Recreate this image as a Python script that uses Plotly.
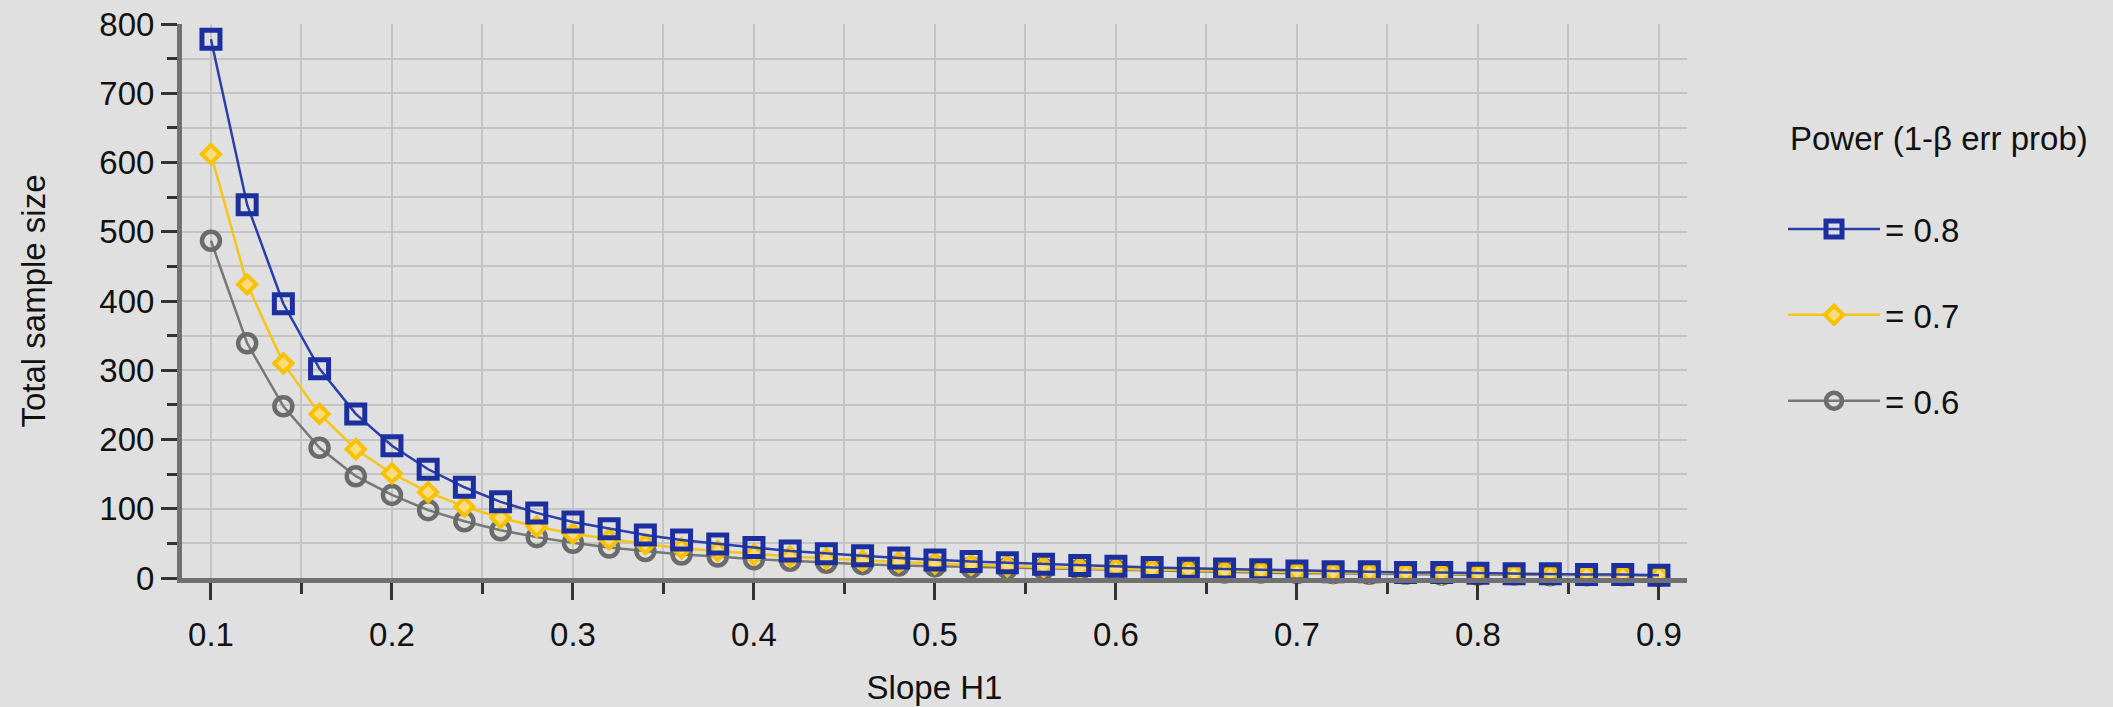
import plotly.graph_objects as go

# ---- data ----
slope = [0.10, 0.12, 0.14, 0.16, 0.18, 0.20, 0.22, 0.24, 0.26, 0.28,
         0.30, 0.32, 0.34, 0.36, 0.38, 0.40, 0.42, 0.44, 0.46, 0.48,
         0.50, 0.52, 0.54, 0.56, 0.58, 0.60, 0.62, 0.64, 0.66, 0.68,
         0.70, 0.72, 0.74, 0.76, 0.78, 0.80, 0.82, 0.84, 0.86, 0.88, 0.90]

n_power_08 = [778, 539, 396, 302, 237, 191, 157, 131, 110, 94,
              81, 71, 62, 55, 49, 44, 39, 35, 32, 29,
              26, 24, 22, 20, 18, 17, 15, 14, 13, 12,
              10, 9, 9, 8, 8, 7, 6, 6, 5, 5, 4]

n_power_07 = [612, 424, 310, 237, 186, 151, 124, 103, 87, 74,
              64, 56, 49, 43, 39, 34, 31, 28, 25, 23,
              21, 19, 17, 16, 14, 13, 12, 11, 10, 10,
              9, 8, 8, 7, 6, 6, 6, 5, 5, 4, 4]

n_power_06 = [487, 339, 248, 188, 147, 120, 98, 82, 69, 59,
              51, 44, 39, 34, 31, 27, 25, 22, 20, 18,
              17, 15, 14, 13, 12, 11, 10, 9, 8, 8,
              7, 7, 6, 6, 5, 5, 5, 4, 4, 4, 3]

series_names = ["= 0.8", "= 0.7", "= 0.6"]
legend_title = "Power (1-β err prob)"
x_title = "Slope H1"
y_title = "Total sample size"
x_ticks = [0.1, 0.2, 0.3, 0.4, 0.5, 0.6, 0.7, 0.8, 0.9]
y_ticks = [0, 100, 200, 300, 400, 500, 600, 700, 800]

FONT = "Liberation Sans, Arial, Helvetica, sans-serif"
BG = "#e0e0e0"
GRID = "#c4c4c4"
BLUE = "#1c2f9e"
YELLOW = "#f7c100"
GRAY = "#6b6b6b"

fig = go.Figure()

# gray first (bottom), blue last (top)
fig.add_trace(go.Scatter(
    x=slope, y=n_power_06, name=series_names[2], mode="lines+markers",
    line=dict(color="#777777", width=2.5),
    marker=dict(symbol="circle-open", size=18, color=GRAY, line=dict(width=4.5, color=GRAY)),
    cliponaxis=False, legendrank=3, legendgroup="g3"))
fig.add_trace(go.Scatter(
    x=slope, y=n_power_07, name=series_names[1], mode="lines+markers",
    line=dict(color="#f5c518", width=2.5),
    marker=dict(symbol="diamond", size=14, color="#fbdc7a", line=dict(width=4, color=YELLOW)),
    cliponaxis=False, legendrank=2, legendgroup="g2"))
fig.add_trace(go.Scatter(
    x=slope, y=n_power_08, name=series_names[0], mode="lines+markers",
    line=dict(color="#2a3fa8", width=2.5),
    marker=dict(symbol="square-open", size=18, color=BLUE, line=dict(width=5, color=BLUE)),
    cliponaxis=False, legendrank=1, legendgroup="g1"))

W, H = 2113, 707
L, R, T, B = 182, 2113 - 1687, 24, 707 - 578

fig.update_layout(
    width=W, height=H,
    margin=dict(l=L, r=R, t=T, b=B, pad=0, autoexpand=False),
    paper_bgcolor=BG, plot_bgcolor=BG,
    font=dict(family=FONT, size=33, color="#111111"),
    showlegend=True,
    legend=dict(
        xref="container", yref="container",
        x=1783 / W, xanchor="left",
        y=1 - 201 / H, yanchor="top",
        bgcolor="rgba(0,0,0,0)", borderwidth=0,
        font=dict(family=FONT, size=33, color="#111111"),
        tracegroupgap=40, itemwidth=92,
        traceorder="grouped",
    ),
    annotations=[dict(
        text=legend_title, xref="paper", yref="paper",
        x=(1788 - L) / (W - L - R), xanchor="left",
        y=1 - (138 - T) / (H - T - B), yanchor="middle",
        showarrow=False, font=dict(family=FONT, size=33, color="#111111"))],
)

fig.update_xaxes(
    automargin=False,
    range=[0.084, 0.9155],
    tickvals=x_ticks, ticktext=[f"{v:.1f}" for v in x_ticks],
    ticks="outside", ticklen=17, tickwidth=3, tickcolor="#333333",
    ticklabelstandoff=6,
    showline=True, linewidth=5, linecolor="#707070",
    showgrid=True, gridcolor=GRID, gridwidth=2,
    minor=dict(dtick=0.05, tick0=0.1, ticks="outside", ticklen=11, tickwidth=3,
               tickcolor="#333333", showgrid=True, gridcolor=GRID, gridwidth=2),
    zeroline=False,
    title=dict(text=x_title, font=dict(family=FONT, size=33, color="#111111"), standoff=26),
)
fig.update_yaxes(
    automargin=False,
    range=[0, 800],
    tickvals=y_ticks,
    ticks="outside", ticklen=16, tickwidth=3, tickcolor="#333333",
    ticklabelstandoff=0,
    showline=True, linewidth=5, linecolor="#707070",
    showgrid=True, gridcolor=GRID, gridwidth=2,
    minor=dict(dtick=50, tick0=0, ticks="outside", ticklen=10, tickwidth=3,
               tickcolor="#333333", showgrid=True, gridcolor=GRID, gridwidth=2),
    zeroline=False,
    title=dict(text=y_title, font=dict(family=FONT, size=33, color="#111111"), standoff=45),
)

fig.write_html(
    "out.html",
    config={"displayModeBar": False},
    post_script="document.body.style.margin='0';document.body.style.background='#e0e0e0';",
)
